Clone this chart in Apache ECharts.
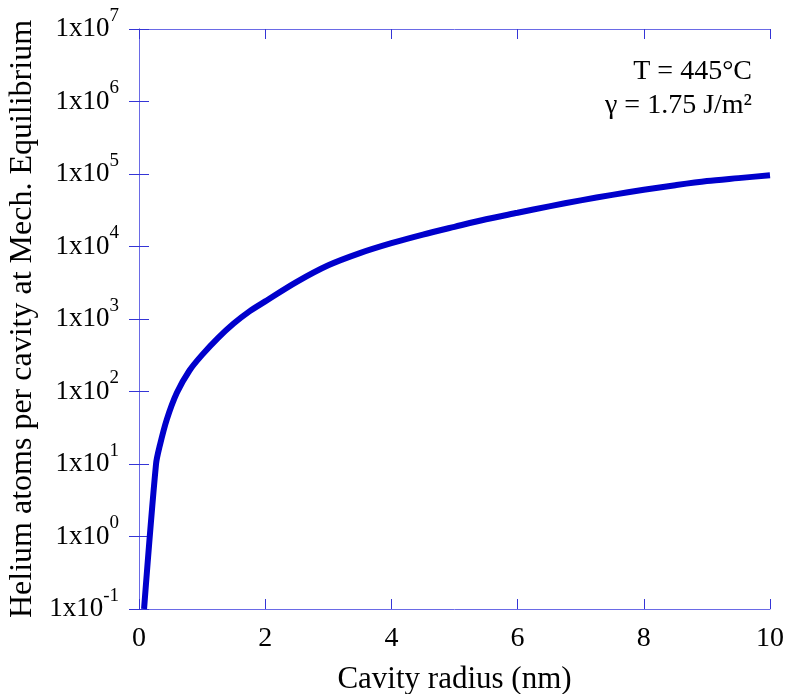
<!DOCTYPE html>
<html>
<head>
<meta charset="utf-8">
<script src="https://cdn.jsdelivr.net/npm/echarts@6/dist/echarts.min.js"></script>
<style>
  html, body { margin: 0; padding: 0; background: #fff; }
  #chart { width: 787px; height: 694px; }
</style>
</head>
<body>
<div id="chart"></div>
<script>
// Cavity radius (nm) and helium atoms per cavity at mechanical equilibrium
const radiusNm = [0.08, 0.27, 0.33, 0.44, 0.6, 0.8, 1.0, 1.25, 1.5, 1.75, 2.0, 2.5, 3.0, 3.5, 4.0,
                  4.5, 5.0, 5.5, 6.0, 6.5, 7.0, 7.5, 8.0, 8.5, 9.0, 9.5, 10.0];
const heliumAtoms = [0.1, 10, 18, 41, 96, 195, 320, 545, 865, 1275, 1750, 3250, 5500, 8100, 11100,
                     14600, 18700, 23800, 29200, 35800, 43300, 51500, 60500, 70000, 79800, 87700, 96200];

const xTicks = { min: 0, max: 10, interval: 2 };
const yRange = { min: 0.1, max: 1e7 };
const noteLines = ['T = 445°C', 'γ = 1.75 J/m²'];

const serif = '"Liberation Serif", "Times New Roman", serif';
const axisBlue = '#6a6ae6';
const tickBlue = '#3535d6';

const chart = echarts.init(document.getElementById('chart'), null, { renderer: 'canvas' });

const points = radiusNm.map((r, i) => [r, heliumAtoms[i]]);

function sciLabel(v) {
  const e = Math.round(Math.log10(v));
  return '{b|1x10}{s|' + e + '}';
}

const yLabelRich = {
  b: { fontFamily: serif, fontSize: 27, lineHeight: 27, color: '#000', verticalAlign: 'bottom' },
  s: { fontFamily: serif, fontSize: 19, lineHeight: 19, color: '#000', verticalAlign: 'bottom', padding: [0, 0, 17, 0] }
};

const commonLine = { show: true, lineStyle: { color: axisBlue, width: 1 } };
const commonTick = { show: true, inside: true, length: 10, lineStyle: { color: tickBlue, width: 1 } };

chart.setOption({
  animation: false,
  backgroundColor: '#fff',
  grid: { left: 139, right: 17, top: 29, bottom: 85, outerBoundsMode: 'none', containLabel: false },
  xAxis: [
    {
      type: 'value', position: 'bottom',
      min: xTicks.min, max: xTicks.max, interval: xTicks.interval,
      name: 'Cavity radius (nm)', nameLocation: 'middle', nameGap: 55,
      nameTextStyle: { fontFamily: serif, fontSize: 31, color: '#000' },
      axisLine: commonLine, axisTick: commonTick,
      axisLabel: { fontFamily: serif, fontSize: 28, color: '#000', margin: 16 },
      splitLine: { show: false }
    },
    {
      type: 'value', position: 'top',
      min: xTicks.min, max: xTicks.max, interval: xTicks.interval,
      axisLine: commonLine, axisTick: commonTick,
      axisLabel: { show: false }, splitLine: { show: false }
    }
  ],
  yAxis: [
    {
      type: 'log', logBase: 10, position: 'left',
      min: yRange.min, max: yRange.max,
      name: 'Helium atoms per cavity at Mech. Equilibrium', nameLocation: 'middle', nameGap: 100,
      nameTextStyle: { fontFamily: serif, fontSize: 32, color: '#000' },
      axisLine: commonLine, axisTick: commonTick,
      axisLabel: { formatter: sciLabel, rich: yLabelRich, margin: 20 },
      splitLine: { show: false }
    },
    {
      type: 'log', logBase: 10, position: 'right',
      min: yRange.min, max: yRange.max,
      axisLine: commonLine, axisTick: commonTick,
      axisLabel: { show: false }, splitLine: { show: false }
    }
  ],
  series: [
    {
      type: 'line',
      data: points,
      xAxisIndex: 0, yAxisIndex: 0,
      showSymbol: false,
      clip: true,
      smooth: 0.3,
      lineStyle: { color: '#0000cc', width: 6 }
    }
  ],
  graphic: [
    {
      type: 'text', right: 35, top: 58,
      style: { text: noteLines[0], font: '28px ' + serif, fill: '#000', textAlign: 'right' }
    },
    {
      type: 'text', right: 35, top: 92,
      style: { text: noteLines[1], font: '28px ' + serif, fill: '#000', textAlign: 'right' }
    }
  ]
});
</script>
</body>
</html>
